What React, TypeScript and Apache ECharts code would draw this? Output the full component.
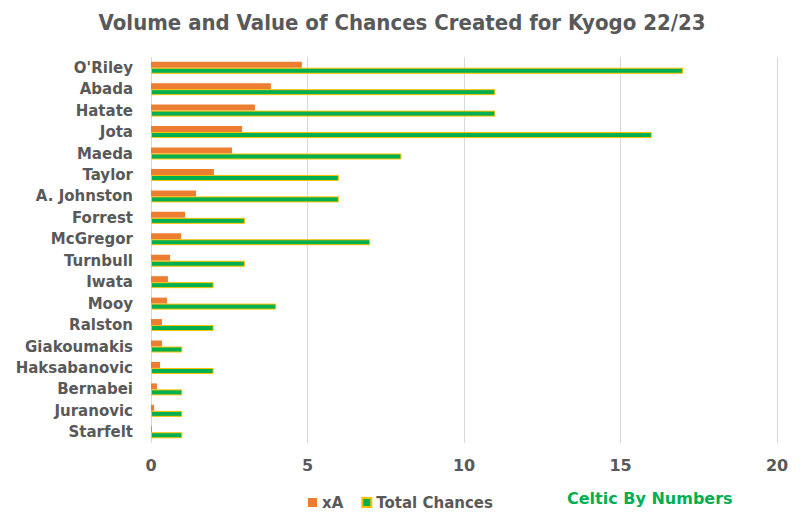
import React, { useEffect, useRef } from "react";
import * as echarts from "echarts";

const players = [
  "O'Riley", "Abada", "Hatate", "Jota", "Maeda", "Taylor", "A. Johnston", "Forrest",
  "McGregor", "Turnbull", "Iwata", "Mooy", "Ralston", "Giakoumakis", "Haksabanovic",
  "Bernabei", "Juranovic", "Starfelt",
];
const xA = [4.82, 3.83, 3.32, 2.91, 2.59, 2.01, 1.44, 1.09, 0.96, 0.61, 0.54, 0.51, 0.35, 0.35, 0.29, 0.19, 0.1, 0.03];
const totalChances = [17, 11, 11, 16, 8, 6, 6, 3, 7, 3, 2, 4, 2, 1, 2, 1, 1, 1];
const xTicks = [0, 5, 10, 15, 20];

const GRAY = "#595959";

export default function App() {
  const ref = useRef<HTMLDivElement>(null);
  useEffect(() => {
    if (!ref.current) return;
    const chart = echarts.init(ref.current, null, { renderer: "svg" });
    chart.setOption({
      animation: false,
      backgroundColor: "#ffffff",
      legend: {
        left: 303,
        top: 490,
        icon: "rect",
        itemWidth: 9,
        itemHeight: 9,
        itemGap: 18,
        textStyle: {
          fontFamily: "DejaVu Sans",
          fontWeight: "bold",
          fontSize: 15,
          color: GRAY,
        },
        data: ["xA", "Total Chances"],
      },
      graphic: [
        {
          type: "text",
          x: 402,
          y: 23,
          scaleX: 0.9,
          style: {
            text: "Volume and Value of Chances Created for Kyogo 22/23",
            fontFamily: "DejaVu Sans",
            fontWeight: "bold",
            fontSize: 22,
            fill: GRAY,
            textAlign: "center",
            textVerticalAlign: "middle",
          },
        },
        {
          type: "text",
          left: 567,
          top: 490,
          style: {
            text: "Celtic By Numbers",
            fontFamily: "DejaVu Sans",
            fontWeight: "bold",
            fontSize: 16,
            fill: "#00B050",
          },
        },
      ],
      grid: { left: 151, right: 24, top: 57, bottom: 74, containLabel: false },
      xAxis: {
        type: "value",
        min: xTicks[0],
        max: xTicks[xTicks.length - 1],
        interval: 5,
        axisLine: { show: false },
        axisTick: { show: false },
        splitLine: { show: true, lineStyle: { color: "#d9d9d9", width: 1 } },
        axisLabel: {
          margin: 14,
          fontFamily: "DejaVu Sans",
          fontWeight: "bold",
          fontSize: 16,
          color: GRAY,
        },
      },
      yAxis: {
        type: "category",
        inverse: true,
        data: players,
        axisLine: { show: false },
        axisTick: { show: false },
        axisLabel: {
          margin: 18,
          fontFamily: "DejaVu Sans",
          fontWeight: "bold",
          fontSize: 15,
          color: GRAY,
        },
      },
      series: [
        {
          name: "xA",
          type: "bar",
          data: xA,
          barWidth: 6,
          barGap: "0%",
          itemStyle: { color: "#ED7D31" },
        },
        {
          name: "Total Chances",
          type: "bar",
          data: totalChances,
          barWidth: 6,
          barGap: "0%",
          itemStyle: { color: "#00B050", borderColor: "#FFC000", borderWidth: 1 },
        },
      ],
    });
    return () => chart.dispose();
  }, []);
  return (
    <div
      ref={ref}
      style={{ position: "absolute", left: 0, top: 0, width: 801, height: 517 }}
    />
  );
}
